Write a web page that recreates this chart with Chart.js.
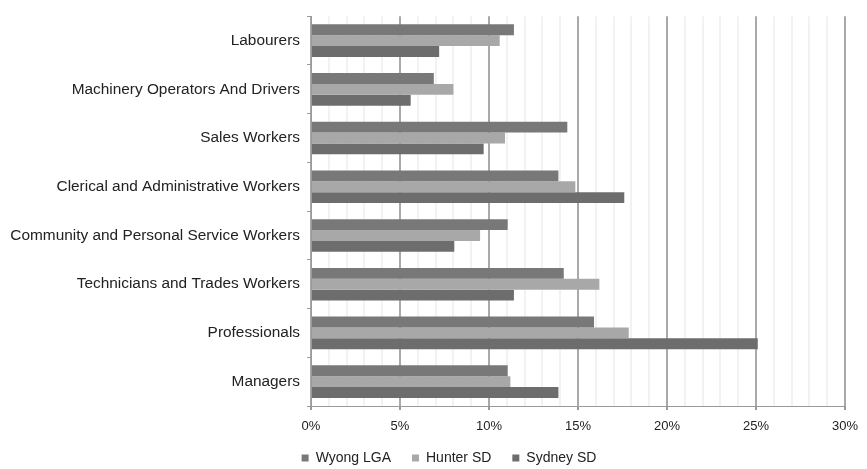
<!DOCTYPE html>
<html>
<head>
<meta charset="utf-8">
<script src="https://cdn.jsdelivr.net/npm/chart.js@4/dist/chart.umd.min.js"></script>
<style>
  html, body { margin: 0; padding: 0; background: #fff; }
  #wrap { width: 867px; height: 469px; }
</style>
</head>
<body>
<div id="wrap"><canvas id="occChart" width="867" height="469"></canvas></div>
<script>
// occupation categories, top to bottom
var occupations = [
  "Labourers",
  "Machinery Operators And Drivers",
  "Sales Workers",
  "Clerical and Administrative Workers",
  "Community and Personal Service Workers",
  "Technicians and Trades Workers",
  "Professionals",
  "Managers"
];

// share of employed persons (%)
var wyongLGA  = [11.4, 6.9, 14.4, 13.9, 11.05, 14.2, 15.9, 11.05];
var hunterSD  = [10.6, 8.0, 10.9, 14.85, 9.5, 16.2, 17.85, 11.2];
var sydneySD  = [7.2, 5.6, 9.7, 17.6, 8.05, 11.4, 25.1, 13.9];

var seriesNames = ["Wyong LGA", "Hunter SD", "Sydney SD"];
var seriesColors = ["#787878", "#a8a8a8", "#6d6d6d"];

// x axis 0-30%, labelled every 5
var xMin = 0, xMax = 30, xMajor = 5;

var FONT = "'Liberation Sans', Arial, sans-serif";

function isMajor(v) { return v % xMajor === 0; }

// nudge the legend so it sits under the plot, not the whole canvas
var legendNudge = {
  id: 'legendNudge',
  afterLayout: function (chart) {
    var l = chart.legend;
    if (!l) return;
    l.left += 23; l.right += 23;
    l.top -= 12;
  }
};

var ctx = document.getElementById('occChart').getContext('2d');
var chart = new Chart(ctx, {
  type: 'bar',
  data: {
    labels: occupations,
    datasets: [wyongLGA, hunterSD, sydneySD].map(function (vals, i) {
      return {
        label: seriesNames[i],
        data: vals,
        backgroundColor: seriesColors[i],
        borderWidth: 0,
        categoryPercentage: 0.67,
        barPercentage: 1.0
      };
    })
  },
  plugins: [legendNudge],
  options: {
    indexAxis: 'y',
    responsive: false,
    animation: false,
    layout: { padding: { left: 0, right: 15, top: 14, bottom: 0 } },
    scales: {
      x: {
        min: xMin,
        max: xMax,
        afterFit: function (s) { s.height = 36; },
        ticks: {
          stepSize: 1,
          autoSkip: false,
          maxRotation: 0,
          padding: 9,
          color: '#222',
          font: { family: FONT, size: 13 },
          callback: function (v) { return isMajor(v) ? v + '%' : ''; }
        },
        grid: {
          color: function (c) { return isMajor(c.tick.value) ? '#a9a9a9' : '#f2f2f2'; },
          lineWidth: 2,
          tickLength: 4,
          tickColor: function (c) { return isMajor(c.tick.value) ? '#999' : 'rgba(0,0,0,0)'; }
        },
        border: { color: '#999', width: 1 }
      },
      y: {
        afterFit: function (s) { s.width = 311; },
        ticks: {
          padding: 7,
          color: '#222',
          font: { family: FONT, size: 15.4 }
        },
        grid: {
          offset: true,
          drawOnChartArea: false,
          tickLength: 4,
          tickColor: '#999'
        },
        border: { color: '#999', width: 1 }
      }
    },
    plugins: {
      tooltip: { enabled: false },
      legend: {
        position: 'bottom',
        maxHeight: 27,
        labels: {
          boxWidth: 7,
          boxHeight: 7,
          padding: 21,
          color: '#222',
          font: { family: FONT, size: 14 }
        }
      }
    }
  }
});
</script>
</body>
</html>
